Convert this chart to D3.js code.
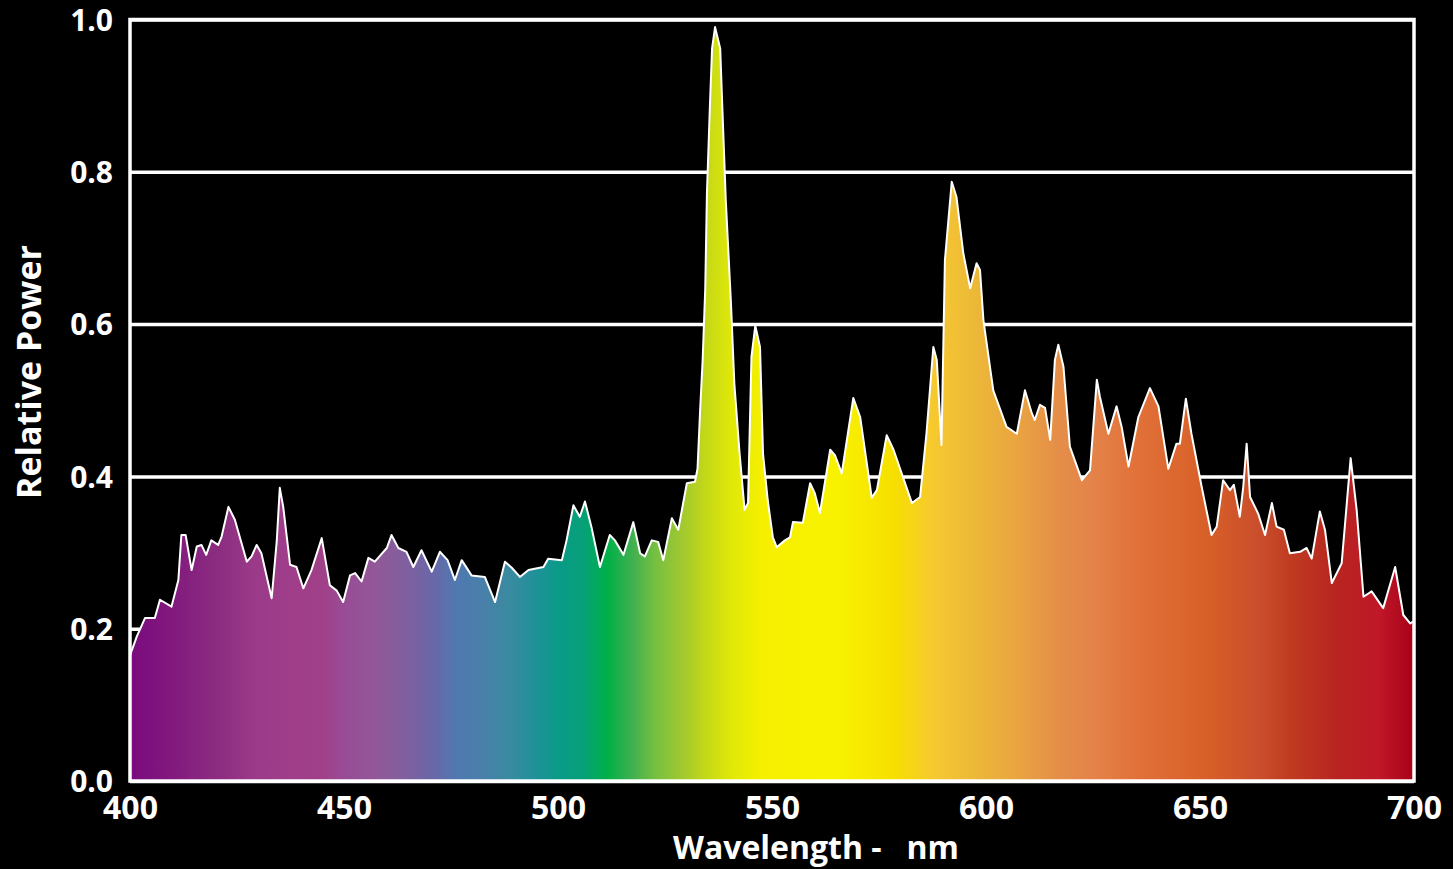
<!DOCTYPE html>
<html>
<head>
<meta charset="utf-8">
<script src="https://cdn.jsdelivr.net/npm/d3@7"></script>
<style>
  html, body { margin: 0; padding: 0; background: #000; }
  svg { display: block; }
  text { font-family: "Open Sans", "Liberation Sans", sans-serif; font-weight: 700; fill: #fff; }
</style>
</head>
<body>
<div id="chart"></div>
<script>
// spectrum: wavelength (nm) and relative power
const wavelength = [
  400, 401.6, 403.5, 405.8, 407, 409.7, 411.3, 412, 413, 414.4, 415.6, 416.7, 417.8, 419, 420.6, 421.4,
  423, 424.5, 427.3, 428.4, 429.6, 430.7, 433.1, 434.3, 435, 435.8, 437.4, 438.9, 440.5, 442.4, 444.8,
  446.7, 448.3, 449.8, 451.4, 452.6, 454.1, 455.7, 457.2, 460, 461.1, 462.7, 464.6, 466.2, 468.1, 470.5,
  472.4, 474.2, 475.9, 477.5, 479.8, 482.9, 485.3, 487.6, 489.2, 491.1, 493.1, 496.6, 497.7, 500.9, 502,
  503.6, 505.1, 506.3, 507.8, 509.8, 512.1, 513.3, 515.3, 517.6, 519.2, 520.3, 521.9, 523.4, 524.6,
  526.6, 528.1, 530.1, 532, 532.6, 533.2, 533.8, 534.4, 534.8, 535.5, 536, 536.7, 537.9, 538.4, 539.2,
  540.4, 541.2, 542.4, 543.6, 544.4, 545.2, 546.1, 547.2, 547.9, 549, 550.2, 551.1, 553, 554.2, 554.9,
  557.2, 558.9, 560, 561.2, 563.6, 564.7, 566.3, 569, 570.6, 573.3, 574.5, 576.8, 578.4, 582.7, 584.6,
  586.1, 587.7, 588.5, 589.6, 590.4, 592, 593.1, 594.7, 596.3, 597.8, 598.6, 599.4, 601.7, 604.8, 607.2,
  609.1, 610.7, 611.4, 612.6, 613.8, 615, 616.1, 616.9, 618.1, 619.6, 622.4, 624.3, 625.9, 626.6, 628.6,
  630.5, 631.7, 633.3, 635.6, 638.3, 640.3, 642.6, 644.5, 645.3, 646.7, 648, 650.4, 652.7, 653.9, 655.4,
  657, 657.9, 659.3, 660.1, 660.9, 661.7, 663.6, 665.2, 666.8, 667.9, 669.6, 671, 673.4, 674.9, 676.1,
  678, 679.2, 680.8, 683.1, 685.2, 686.6, 688.2, 690.1, 692.8, 695.6, 697.5, 699.1, 700
];
const power = [
  .165, .19, .214, .214, .238, .229, .264, .323, .323, .277, .308, .31, .297, .316, .31, .321,
  .36, .343, .288, .295, .31, .299, .24, .316, .385, .36, .284, .281, .253, .277, .319,
  .257, .25, .235, .27, .273, .262, .293, .288, .306, .323, .306, .301, .281, .303, .275,
  .301, .29, .264, .29, .27, .268, .235, .288, .28, .268, .277, .281, .292, .29, .316,
  .362, .347, .367, .334, .281, .323, .316, .297, .34, .299, .295, .316, .314, .29,
  .345, .33, .391, .393, .41, .486, .553, .646, .772, .888, .962, .99, .962, .884, .763,
  .629, .522, .432, .356, .365, .557, .598, .57, .43, .369, .32, .307, .316, .32, .34,
  .339, .391, .378, .352, .435, .428, .404, .503, .478, .372, .382, .454, .435, .365, .373,
  .457, .57, .553, .441, .684, .787, .767, .693, .647, .68, .671, .605, .513, .465, .456,
  .513, .483, .474, .494, .49, .448, .553, .573, .544, .439, .395, .408, .527, .505, .456,
  .492, .465, .413, .478, .516, .492, .41, .443, .443, .502, .456, .386, .323, .334, .395,
  .382, .389, .347, .386, .443, .373, .351, .323, .365, .334, .33, .299, .301, .306, .292,
  .354, .33, .26, .286, .424, .356, .242, .249, .227, .281, .218, .207, .21
];

// colour bands under the curve
const stopWavelength = [400, 409.6, 419, 429, 438.5, 445, 450, 457.7, 465, 471, 476, 482.7, 488.5, 494, 500,
  505.8, 511.5, 517.3, 523, 528.8, 534.6, 540.4, 548, 565, 578.3, 588, 597.6, 607.2, 616.8, 624.5, 636,
  651.4, 664.9, 670.7, 682.2, 691.8, 700];
const stopColor = ['#7a0a7e', '#82197e', '#8a2a80', '#9a3a88', '#a03e8a', '#a04088', '#984c96', '#925898',
  '#7e60a0', '#6868a8', '#5078b0', '#4880aa', '#3a8aa0', '#22909a', '#0a9a88', '#06a078', '#00b048',
  '#40b050', '#78c040', '#a0c830', '#c4d818', '#e0e808', '#f6f000', '#f8f200', '#f6e000', '#f6c830',
  '#ecb838', '#eaa440', '#e48e48', '#e4844a', '#e07038', '#d86028', '#c84c2c', '#c03c20', '#b82420',
  '#c01828', '#a80018'];

const xTicks = [400, 450, 500, 550, 600, 650, 700];
const yTicks = [0, 0.2, 0.4, 0.6, 0.8, 1.0];

const width = 1453, height = 869;
const plotLeft = 130, plotRight = 1414, plotTop = 19.5, plotBottom = 781;

let svg = d3.select('#chart').append('svg')
  .attr('width', width)
  .attr('height', height);

let x = d3.scaleLinear().domain([400, 700]).range([plotLeft, plotRight]);
let y = d3.scaleLinear().domain([0, 1]).range([plotBottom, plotTop]);

let grad = svg.append('defs').append('linearGradient')
  .attr('id', 'spectrum')
  .attr('gradientUnits', 'userSpaceOnUse')
  .attr('x1', x(400)).attr('x2', x(700))
  .attr('y1', 0).attr('y2', 0);

grad.selectAll('stop')
  .data(stopWavelength)
  .enter()
  .append('stop')
  .attr('offset', d => (d - 400) / 300)
  .attr('stop-color', (d, i) => stopColor[i]);

// gridlines + y labels
let yAxis = svg.append('g')
  .attr('transform', `translate(${plotLeft},0)`)
  .call(d3.axisLeft(y).tickValues(yTicks).tickFormat(d3.format('.1f'))
    .tickSize(-(plotRight - plotLeft)).tickPadding(17));

yAxis.select('.domain').remove();
yAxis.selectAll('line').attr('stroke', '#fff').attr('stroke-width', 3.5);
yAxis.selectAll('text').attr('font-size', 30).attr('dy', '0.36em');

// x labels
let xAxis = svg.append('g')
  .attr('transform', `translate(0,${plotBottom})`)
  .call(d3.axisBottom(x).tickValues(xTicks).tickSize(0).tickPadding(15));

xAxis.select('.domain').remove();
xAxis.selectAll('text').attr('font-size', 32);

let points = wavelength.map((w, i) => [w, power[i]]);

let area = d3.area()
  .x(d => x(d[0]))
  .y0(y(0))
  .y1(d => y(d[1]));

let line = d3.line()
  .x(d => x(d[0]))
  .y(d => y(d[1]));

svg.append('path')
  .datum(points)
  .attr('d', area)
  .attr('fill', 'url(#spectrum)');

svg.append('path')
  .datum(points)
  .attr('d', line)
  .attr('fill', 'none')
  .attr('stroke', '#fff')
  .attr('stroke-width', 2)
  .attr('stroke-linejoin', 'round');

// frame
svg.append('rect')
  .attr('x', plotLeft)
  .attr('y', plotTop)
  .attr('width', plotRight - plotLeft)
  .attr('height', plotBottom - plotTop)
  .attr('fill', 'none')
  .attr('stroke', '#fff')
  .attr('stroke-width', 3.5);

svg.append('text')
  .attr('transform', 'translate(41,372) rotate(-90)')
  .attr('text-anchor', 'middle')
  .attr('font-size', 34)
  .text('Relative Power');

svg.append('text')
  .attr('x', 816)
  .attr('y', 859)
  .attr('text-anchor', 'middle')
  .attr('font-size', 32)
  .style('white-space', 'pre')
  .text('Wavelength -   nm');
</script>
</body>
</html>
